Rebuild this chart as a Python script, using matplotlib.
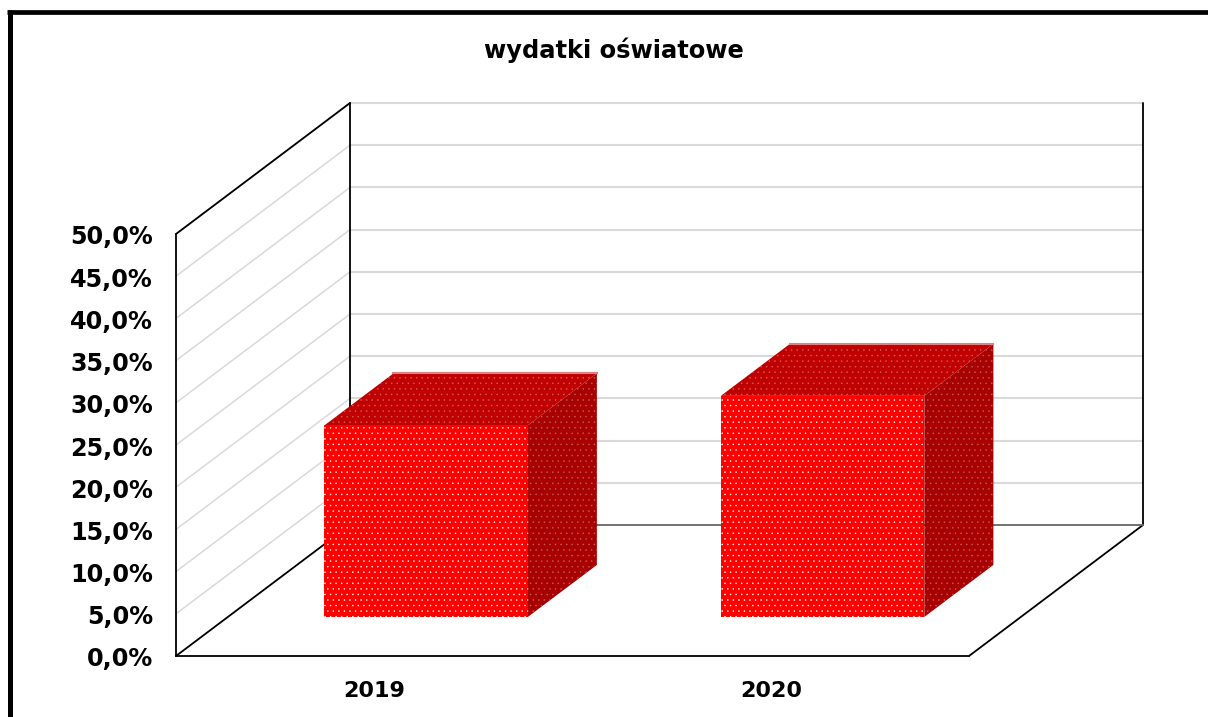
import matplotlib
matplotlib.use("Agg")
import matplotlib.pyplot as plt
from matplotlib.patches import Polygon
from matplotlib.transforms import ScaledTranslation

years = ["2019", "2020"]
values = [22.7, 26.2]
y_ticks = [0, 5, 10, 15, 20, 25, 30, 35, 40, 45, 50]
y_labels = ["0,0%", "5,0%", "10,0%", "15,0%", "20,0%", "25,0%",
            "30,0%", "35,0%", "40,0%", "45,0%", "50,0%"]
title = "wydatki oświatowe"

W, H = 1208, 717

# oblique shift of the 3d box, in data units
DEPTH_X = 174 / 396.5
DEPTH_Y = 131 / 422 * 50
BAR_WIDTH = 0.513
BAR_D0 = 0.298
BAR_D1 = 0.695


def proj(x, v, d):
    return x + d * DEPTH_X, v + d * DEPTH_Y


def face(ax, points, color, hatch_color):
    p = Polygon(points, closed=True, facecolor=color, edgecolor=hatch_color,
                hatch="...", linewidth=0, clip_on=False, zorder=5)
    ax.add_patch(p)


plt.rcParams["hatch.linewidth"] = 0.3
plt.rcParams["font.family"] = "DejaVu Sans"

fig = plt.figure(figsize=(W / 100, H / 100), dpi=100)
ax = fig.add_axes([176 / W, (H - 656) / H, 793 / W, 422 / H])
ax.set_xlim(0, 2)
ax.set_ylim(0, 50)
for s in ax.spines.values():
    s.set_visible(False)
ax.patch.set_alpha(0)

# gridlines on side wall and back wall
for v in y_ticks[1:]:
    xs, ys = zip(proj(0, v, 0), proj(0, v, 1))
    ax.plot(xs, ys, color="#d9d9d9", lw=1.1, clip_on=False, zorder=1)
    xs, ys = zip(proj(0, v, 1), proj(2, v, 1))
    ax.plot(xs, ys, color="#d9d9d9", lw=1.5, clip_on=False, zorder=1)

# box edges
edges = [
    (proj(0, 0, 0), proj(0, 50, 0)),
    (proj(0, 0, 1), proj(0, 50, 1)),
    (proj(2, 0, 1), proj(2, 50, 1)),
    (proj(0, 0, 0), proj(2, 0, 0)),
    (proj(0, 0, 0), proj(0, 0, 1)),
    (proj(2, 0, 0), proj(2, 0, 1)),
    (proj(0, 50, 0), proj(0, 50, 1)),
]
for a, b in edges:
    ax.plot([a[0], b[0]], [a[1], b[1]], color="black", lw=1.3,
            clip_on=False, zorder=2, solid_capstyle="round")
a, b = proj(0, 0, 1), proj(2, 0, 1)
ax.plot([a[0], b[0]], [a[1], b[1]], color="#666666", lw=1.3, clip_on=False, zorder=2)

# bars
for i, val in enumerate(values):
    x0 = i + 0.5 - BAR_WIDTH / 2
    x1 = i + 0.5 + BAR_WIDTH / 2
    face(ax, [proj(x1, 0, BAR_D0), proj(x1, 0, BAR_D1),
              proj(x1, val, BAR_D1), proj(x1, val, BAR_D0)],
         "#a80000", "#c86060")
    face(ax, [proj(x0, val, BAR_D0), proj(x1, val, BAR_D0),
              proj(x1, val, BAR_D1), proj(x0, val, BAR_D1)],
         "#c00000", "#d86060")
    face(ax, [proj(x0, 0, BAR_D0), proj(x1, 0, BAR_D0),
              proj(x1, val, BAR_D0), proj(x0, val, BAR_D0)],
         "#ff0000", "white")
    a, b = proj(x0, val, BAR_D1), proj(x1, val, BAR_D1)
    ax.plot([a[0], b[0]], [a[1], b[1]], color="#e08080", lw=1.5,
            clip_on=False, zorder=6)

ax.set_yticks(y_ticks)
ax.set_yticklabels(y_labels, fontsize=17.2, fontweight="bold")
ax.set_xticks([0.5, 1.5])
ax.set_xticklabels(years, fontsize=16, fontweight="bold")
ax.tick_params(axis="y", length=0, pad=16.5)
ax.tick_params(axis="x", length=0, pad=18)

# labels sit a little under their gridline in the reference
down = ScaledTranslation(0, -1 / 100, fig.dpi_scale_trans)
for lab in ax.get_yticklabels():
    lab.set_transform(lab.get_transform() + down)

fig.text(614 / W, 1 - 50 / H, title, ha="center", va="center",
         fontsize=17.4, fontweight="bold")

# chart frame, cut off at the right and bottom of the picture
fig.add_artist(plt.Line2D([9.8 / W, 9.8 / W], [0, 1 - 10 / H], color="black",
                          lw=3.6, solid_capstyle="butt"))
fig.add_artist(plt.Line2D([7.3 / W, 1], [1 - 12.3 / H, 1 - 12.3 / H], color="black",
                          lw=3.4, solid_capstyle="butt"))

fig.savefig("out.png", dpi=100)
